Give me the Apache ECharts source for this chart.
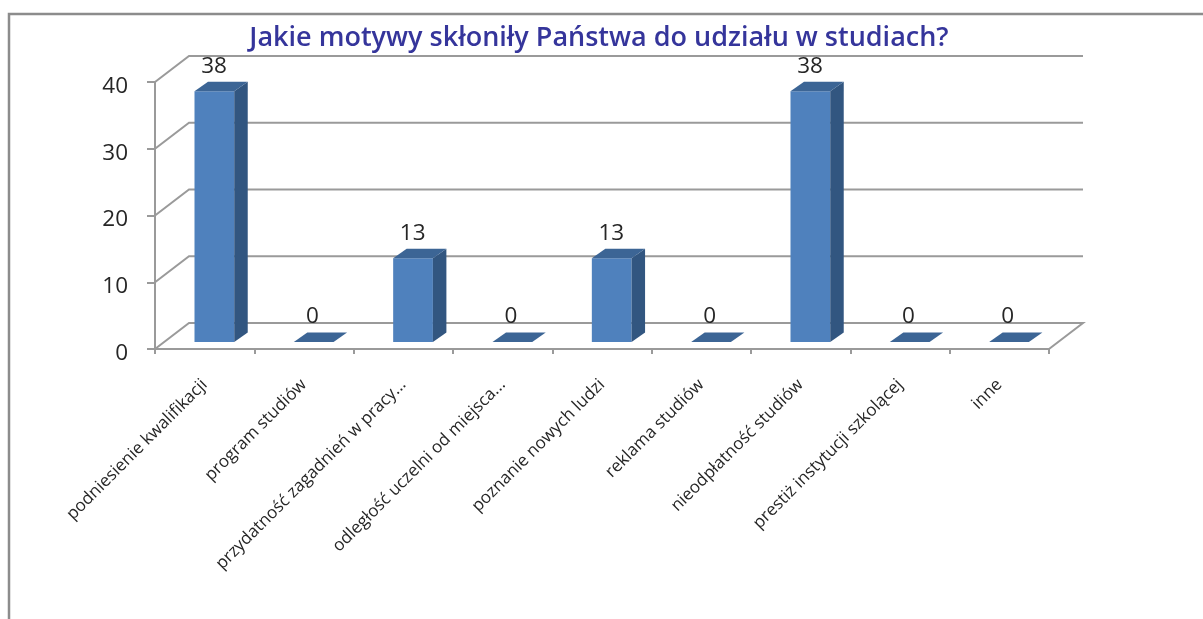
<!DOCTYPE html>
<html>
<head>
<meta charset="utf-8">
<style>html,body{margin:0;padding:0;background:#fff;overflow:hidden}#c{width:1203px;height:619px}</style>
<script src="https://cdn.jsdelivr.net/npm/echarts@6/dist/echarts.min.js"></script>
</head>
<body>
<div id="c"></div>
<script>
const titleText = 'Jakie motywy skłoniły Państwa do udziału w studiach?';
const categories = ['podniesienie kwalifikacji','program studiów','przydatność zagadnień w pracy...','odległość uczelni od miejsca...','poznanie nowych ludzi','reklama studiów','nieodpłatność studiów','prestiż instytucji szkolącej','inne'];
const values = [38,0,13,0,13,0,38,0,0];
const yTicks = [0,10,20,30,40];

const DEPTH_X = 34, DEPTH_Y = 26, BAR_DX = 13.5, BAR_DY = 9.5;
const lineColor = '#9a9a9a', textColor = '#262626';
const font = '"Open Sans", sans-serif';

const chart = echarts.init(document.getElementById('c'), null, {renderer:'canvas'});
chart.setOption({
  animation:false,
  backgroundColor:'#fff',
  title:{text:titleText,left:594,top:20,textAlign:'center',
    textStyle:{color:'#35359b',fontFamily:font,fontWeight:600,fontSize:27}},
  graphic:[{type:'polyline',silent:true,shape:{points:[[9,619],[9,14],[1203,14]]},
    style:{stroke:'#8c8c8c',lineWidth:2.5,fill:null}}],
  grid:{left:155,right:154,top:82,bottom:270,containLabel:false},
  xAxis:{type:'category',data:categories,boundaryGap:true,
    axisLine:{lineStyle:{color:lineColor,width:2}},
    axisTick:{show:true,length:5,alignWithLabel:false,lineStyle:{color:lineColor,width:2}},
    axisLabel:{interval:0,rotate:45,margin:33,color:textColor,fontFamily:font,fontSize:17}},
  yAxis:{type:'value',min:0,max:40,interval:10,
    axisLine:{show:true,lineStyle:{color:lineColor,width:2}},
    axisTick:{show:true,length:8,lineStyle:{color:lineColor,width:2}},
    splitLine:{show:false},
    axisLabel:{margin:27,formatter:'{a|{value}}',
      rich:{a:{color:textColor,fontFamily:font,fontSize:22.5,padding:[9,0,0,0]}}}},
  series:[
    {type:'custom',z:1,silent:true,encode:{x:0,y:1},
     data:yTicks.map(t=>[0,t]),
     renderItem(params,api){
       const band = api.size([1,0])[0];
       const p = api.coord([0,api.value(1)]);
       const x0 = p[0]-band/2, x1 = x0+band*categories.length, y = p[1];
       const pts = [[x0,y],[x0+DEPTH_X,y-DEPTH_Y],[x1+DEPTH_X,y-DEPTH_Y]];
       if(api.value(1)===yTicks[0]) pts.push([x1,y]);
       return {type:'polyline',shape:{points:pts},style:{stroke:lineColor,lineWidth:2,fill:null}};
     }},
    {type:'custom',z:3,silent:true,encode:{x:0,y:1},
     data:values.map((v,i)=>[i,v]),
     renderItem(params,api){
       const v = api.value(1);
       const band = api.size([1,0])[0];
       const p = api.coord([api.value(0),v]);
       const p0 = api.coord([api.value(0),0]);
       const w = band*0.4;
       const l = p[0]-band/2+39.5, r = l+w;
       const base = p0[1]-7;
       const top = Math.min(p[1]-4,base);
       const children = [];
       if(v>0){
         children.push({type:'polygon',shape:{points:[[l,base],[l,top],[r,top],[r,base]]},
           style:{fill:'#4f81bd'}});
         children.push({type:'polygon',shape:{points:[[r,base],[r,top],[r+BAR_DX,top-BAR_DY],[r+BAR_DX,base-BAR_DY]]},
           style:{fill:'#325680'}});
       }
       children.push({type:'polygon',shape:{points:[[l,top],[r,top],[r+BAR_DX,top-BAR_DY],[l+BAR_DX,top-BAR_DY]]},
         style:{fill:'#3c6595'}});
       children.push({type:'text',style:{text:String(v),x:l+(v>0?19.5:18.5),y:top-BAR_DY-4,
         align:'center',verticalAlign:'bottom',fill:textColor,font:'22.5px '+font}});
       return {type:'group',children};
     }}
  ]
});
</script>
</body>
</html>
